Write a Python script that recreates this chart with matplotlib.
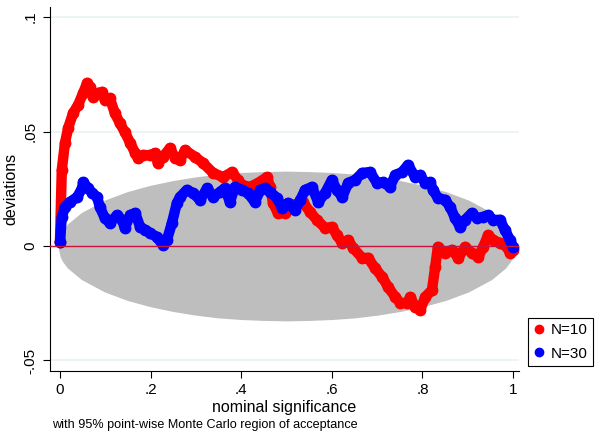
import numpy as np
import matplotlib.pyplot as plt
from matplotlib.lines import Line2D

plt.rcParams["font.family"] = ["Liberation Sans", "DejaVu Sans"]

# acceptance region (95% point-wise Monte Carlo)
band_x = [0, 0.005, 0.01, 0.02, 0.05, 0.10, 0.15, 0.20, 0.25, 0.30, 0.35, 0.40, 0.45,
          0.50, 0.55, 0.60, 0.65, 0.70, 0.75, 0.80, 0.85, 0.90, 0.95, 0.98, 0.99, 0.995, 1.0]
band_hi = [0.0, 0.0045, 0.0064, 0.0090, 0.0139, 0.0192, 0.0229, 0.0256, 0.0277, 0.0293,
           0.0305, 0.0312, 0.0316, 0.0318, 0.0316, 0.0312, 0.0305, 0.0293, 0.0277, 0.0256,
           0.0229, 0.0192, 0.0139, 0.0090, 0.0064, 0.0045, 0.0]
band_lo = [-v for v in band_hi]

# N=10
n10_x = [0.000, 0.004, 0.011, 0.018, 0.029, 0.040, 0.051, 0.060, 0.066, 0.073, 0.084,
         0.093, 0.099, 0.110, 0.121, 0.132, 0.143, 0.155, 0.166, 0.172, 0.183, 0.199,
         0.210, 0.216, 0.227, 0.243, 0.254, 0.265, 0.276, 0.298, 0.316, 0.338, 0.360,
         0.380, 0.393, 0.402, 0.419, 0.437, 0.457, 0.464, 0.470, 0.481, 0.497, 0.508,
         0.514, 0.536, 0.552, 0.567, 0.585, 0.600, 0.611, 0.623, 0.636, 0.647, 0.667,
         0.680, 0.695, 0.711, 0.724, 0.740, 0.751, 0.766, 0.773, 0.784, 0.795, 0.806,
         0.821, 0.828, 0.834, 0.850, 0.865, 0.879, 0.894, 0.909, 0.923, 0.934, 0.945,
         0.956, 0.971, 0.987, 0.993, 1.000]
n10_y = [0.0017, 0.0332, 0.0450, 0.0515, 0.0581, 0.0616, 0.0668, 0.0712, 0.0694, 0.0651,
         0.0668, 0.0673, 0.0638, 0.0646, 0.0581, 0.0537, 0.0498, 0.0450, 0.0406, 0.0384,
         0.0397, 0.0397, 0.0406, 0.0362, 0.0389, 0.0428, 0.0384, 0.0376, 0.0419, 0.0389,
         0.0362, 0.0319, 0.0301, 0.0323, 0.0288, 0.0266, 0.0258, 0.0275, 0.0301, 0.0258,
         0.0188, 0.0144, 0.0144, 0.0166, 0.0179, 0.0192, 0.0148, 0.0114, 0.0079, 0.0083,
         0.0048, 0.0013, 0.0026, -0.0009, -0.0052, -0.0052, -0.0096, -0.0135, -0.0179,
         -0.0223, -0.0249, -0.0249, -0.0223, -0.0266, -0.0279, -0.0223, -0.0192, -0.0092,
         -0.0004, -0.0031, -0.0017, -0.0052, -0.0004, -0.0031, -0.0048, -0.0004, 0.0048,
         0.0026, 0.0013, -0.0004, -0.0031, -0.0017]

# N=30
n30_x = [0.000, 0.004, 0.011, 0.022, 0.038, 0.049, 0.051, 0.062, 0.071, 0.082, 0.088,
         0.099, 0.110, 0.126, 0.137, 0.143, 0.155, 0.166, 0.177, 0.188, 0.199, 0.214,
         0.227, 0.236, 0.247, 0.258, 0.265, 0.280, 0.294, 0.309, 0.325, 0.338, 0.353,
         0.364, 0.375, 0.386, 0.402, 0.415, 0.430, 0.442, 0.453, 0.464, 0.479, 0.490,
         0.503, 0.519, 0.530, 0.541, 0.556, 0.570, 0.585, 0.600, 0.611, 0.623, 0.636,
         0.651, 0.667, 0.684, 0.700, 0.713, 0.728, 0.740, 0.755, 0.768, 0.784, 0.795,
         0.806, 0.817, 0.823, 0.834, 0.850, 0.861, 0.872, 0.883, 0.894, 0.909, 0.921,
         0.934, 0.945, 0.956, 0.971, 0.982, 0.993, 1.000]
n30_y = [0.0017, 0.0127, 0.0170, 0.0192, 0.0214, 0.0253, 0.0279, 0.0253, 0.0231, 0.0214,
         0.0170, 0.0122, 0.0100, 0.0135, 0.0114, 0.0079, 0.0135, 0.0144, 0.0083, 0.0070,
         0.0057, 0.0039, 0.0004, 0.0026, 0.0100, 0.0188, 0.0214, 0.0245, 0.0231, 0.0201,
         0.0253, 0.0214, 0.0236, 0.0253, 0.0192, 0.0258, 0.0245, 0.0231, 0.0192, 0.0245,
         0.0253, 0.0236, 0.0210, 0.0166, 0.0188, 0.0157, 0.0200, 0.0245, 0.0258, 0.0192,
         0.0231, 0.0288, 0.0245, 0.0214, 0.0275, 0.0288, 0.0319, 0.0323, 0.0275, 0.0279,
         0.0258, 0.0310, 0.0323, 0.0354, 0.0301, 0.0310, 0.0275, 0.0279, 0.0245, 0.0210,
         0.0201, 0.0170, 0.0122, 0.0083, 0.0114, 0.0144, 0.0122, 0.0127, 0.0135, 0.0114,
         0.0114, 0.0070, 0.0026, -0.0004]

fig = plt.figure(figsize=(5.97, 4.33), dpi=100)
ax = fig.add_axes([50 / 597, 1 - 371 / 433, 469 / 597, 364 / 433])

ax.fill_between(band_x, band_lo, band_hi, color="#bebebe", lw=3, edgecolor="#bebebe", zorder=1)

ax.plot(n10_x, n10_y, color="#ff0000", lw=7.5, marker="o", ms=7.5,
        solid_joinstyle="round", solid_capstyle="round", zorder=3)
ax.plot(n30_x, n30_y, color="#0000ff", lw=7.5, marker="o", ms=7.5,
        solid_joinstyle="round", solid_capstyle="round", zorder=4)

ax.axhline(0, color="#c8143c", lw=1, zorder=5)

ax.set_xlim(-0.022, 1.013)
ax.set_ylim(-0.0546, 0.1044)
ax.set_xticks([0, 0.2, 0.4, 0.6, 0.8, 1])
ax.set_xticklabels(["0", ".2", ".4", ".6", ".8", "1"])
ax.set_yticks([-0.05, 0, 0.05, 0.1])
ax.set_yticklabels(["-.05", "0", ".05", ".1"], rotation=90, va="center")
ax.grid(axis="y", color="#eaf2f3", lw=1.2, zorder=0)
ax.set_axisbelow(True)

for s in ["top", "right"]:
    ax.spines[s].set_visible(False)
ax.tick_params(labelsize=11, length=5, width=0.8, pad=4)
ax.set_xlabel("nominal significance", fontsize=11.5, labelpad=2)
ax.set_ylabel("deviations", fontsize=11.5, labelpad=4)

fig.text(52 / 597, 1 - 425 / 433, "with 95% point-wise Monte Carlo region of acceptance",
         fontsize=9.1, va="center")

handles = [Line2D([], [], color="#ff0000", marker="o", ls="none", ms=6),
           Line2D([], [], color="#0000ff", marker="o", ls="none", ms=6)]
leg = fig.legend(handles, ["N=10", "N=30"], loc="lower left",
                 bbox_to_anchor=(528 / 597, 1 - 366 / 433), borderaxespad=0, fontsize=11,
                 fancybox=False, edgecolor="black", framealpha=1,
                 handlelength=0.7, handletextpad=0.45, borderpad=0.35, labelspacing=0.6)
leg.get_frame().set_linewidth(0.8)

fig.savefig("out.png", dpi=100)
